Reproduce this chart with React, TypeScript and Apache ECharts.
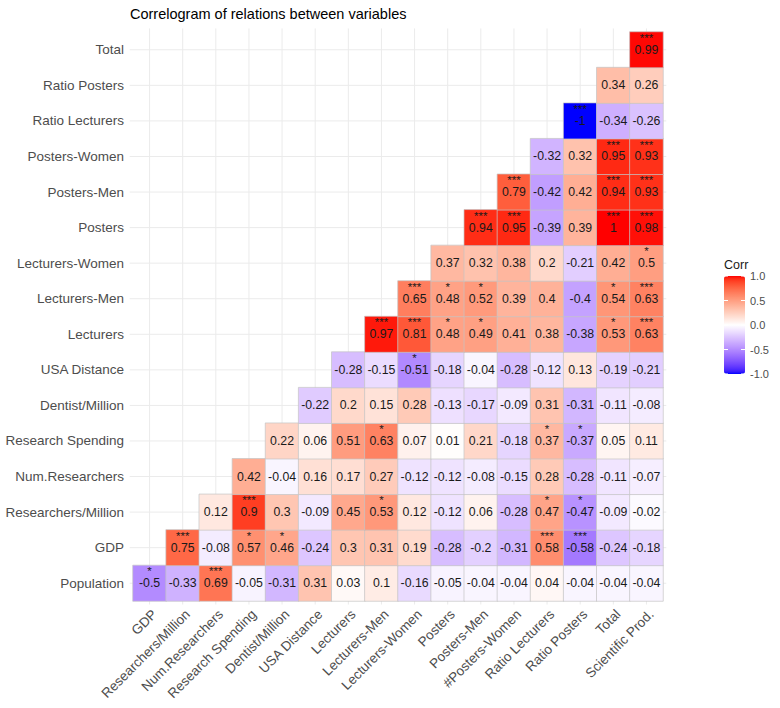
import React, { useEffect, useRef } from 'react';
import * as echarts from 'echarts';

const xCats = [
  'GDP', 'Researchers/Million', 'Num.Researchers', 'Research Spending', 'Dentist/Million',
  'USA Distance', 'Lecturers', 'Lecturers-Men', 'Lecturers-Women', 'Posters', 'Posters-Men',
  '#Posters-Women', 'Ratio Lecturers', 'Ratio Posters', 'Total', 'Scientific Prod.',
];
const yCats = [
  'Population', 'GDP', 'Researchers/Million', 'Num.Researchers', 'Research Spending',
  'Dentist/Million', 'USA Distance', 'Lecturers', 'Lecturers-Men', 'Lecturers-Women',
  'Posters', 'Posters-Men', 'Posters-Women', 'Ratio Lecturers', 'Ratio Posters', 'Total',
];

// Row r (bottom = 0) holds values for columns r..15
const corrValues: number[][] = [
  [-0.5, -0.33, 0.69, -0.05, -0.31, 0.31, 0.03, 0.1, -0.16, -0.05, -0.04, -0.04, 0.04, -0.04, -0.04, -0.04],
  [0.75, -0.08, 0.57, 0.46, -0.24, 0.3, 0.31, 0.19, -0.28, -0.2, -0.31, 0.58, -0.58, -0.24, -0.18],
  [0.12, 0.9, 0.3, -0.09, 0.45, 0.53, 0.12, -0.12, 0.06, -0.28, 0.47, -0.47, -0.09, -0.02],
  [0.42, -0.04, 0.16, 0.17, 0.27, -0.12, -0.12, -0.08, -0.15, 0.28, -0.28, -0.11, -0.07],
  [0.22, 0.06, 0.51, 0.63, 0.07, 0.01, 0.21, -0.18, 0.37, -0.37, 0.05, 0.11],
  [-0.22, 0.2, 0.15, 0.28, -0.13, -0.17, -0.09, 0.31, -0.31, -0.11, -0.08],
  [-0.28, -0.15, -0.51, -0.18, -0.04, -0.28, -0.12, 0.13, -0.19, -0.21],
  [0.97, 0.81, 0.48, 0.49, 0.41, 0.38, -0.38, 0.53, 0.63],
  [0.65, 0.48, 0.52, 0.39, 0.4, -0.4, 0.54, 0.63],
  [0.37, 0.32, 0.38, 0.2, -0.21, 0.42, 0.5],
  [0.94, 0.95, -0.39, 0.39, 1, 0.98],
  [0.79, -0.42, 0.42, 0.94, 0.93],
  [-0.32, 0.32, 0.95, 0.93],
  [-1, -0.34, -0.26],
  [0.34, 0.26],
  [0.99],
];

const corrStars: string[][] = [
  ['*', '', '***', '', '', '', '', '', '', '', '', '', '', '', '', ''],
  ['***', '', '*', '*', '', '', '', '', '', '', '', '***', '***', '', ''],
  ['', '***', '', '', '', '*', '', '', '', '', '*', '*', '', ''],
  ['', '', '', '', '', '', '', '', '', '', '', '', ''],
  ['', '', '', '*', '', '', '', '', '*', '*', '', ''],
  ['', '', '', '', '', '', '', '', '', '', ''],
  ['', '', '*', '', '', '', '', '', '', ''],
  ['***', '***', '*', '*', '', '', '', '*', '***'],
  ['***', '*', '*', '', '', '', '*', '***'],
  ['', '', '', '', '', '', '*'],
  ['***', '***', '', '', '***', '***'],
  ['***', '', '', '***', '***'],
  ['', '', '***', '***'],
  ['***', '', ''],
  ['', ''],
  ['***'],
];

const legendTicks = [1, 0.5, 0, -0.5, -1];
const legendTickLabels = ['1.0', '0.5', '0.0', '-0.5', '-1.0'];

// ---- Lab colour interpolation (as ggplot's gradient2) ----
function hexToRgb(h: string): number[] {
  const n = parseInt(h.slice(1), 16);
  return [(n >> 16) & 255, (n >> 8) & 255, n & 255];
}
function toLin(c: number) {
  c /= 255;
  return c <= 0.04045 ? c / 12.92 : Math.pow((c + 0.055) / 1.055, 2.4);
}
function toSrgb(c: number) {
  c = c <= 0.0031308 ? 12.92 * c : 1.055 * Math.pow(Math.max(c, 0), 1 / 2.4) - 0.055;
  return Math.round(Math.min(1, Math.max(0, c)) * 255);
}
function rgbToLab(rgb: number[]): number[] {
  const R = toLin(rgb[0]), G = toLin(rgb[1]), B = toLin(rgb[2]);
  const X = (0.4124 * R + 0.3576 * G + 0.1805 * B) / 0.95047;
  const Y = 0.2126 * R + 0.7152 * G + 0.0722 * B;
  const Z = (0.0193 * R + 0.1192 * G + 0.9505 * B) / 1.08883;
  const f = (t: number) => (t > 0.008856 ? Math.cbrt(t) : 7.787 * t + 16 / 116);
  const fx = f(X), fy = f(Y), fz = f(Z);
  return [116 * fy - 16, 500 * (fx - fy), 200 * (fy - fz)];
}
function labToHex(lab: number[]): string {
  const fy = (lab[0] + 16) / 116;
  const fx = fy + lab[1] / 500;
  const fz = fy - lab[2] / 200;
  const inv = (t: number) => (t * t * t > 0.008856 ? t * t * t : (t - 16 / 116) / 7.787);
  const X = 0.95047 * inv(fx), Y = inv(fy), Z = 1.08883 * inv(fz);
  const R = 3.2406 * X - 1.5372 * Y - 0.4986 * Z;
  const G = -0.9689 * X + 1.8758 * Y + 0.0415 * Z;
  const B = 0.0557 * X - 0.204 * Y + 1.057 * Z;
  return '#' + [R, G, B].map((c) => toSrgb(c).toString(16).padStart(2, '0')).join('');
}
const labLow = rgbToLab(hexToRgb('#0000ff'));
const labMid = rgbToLab(hexToRgb('#ffffff'));
const labHigh = rgbToLab(hexToRgb('#ff0000'));
const colorStops: string[] = [];
for (let k = 0; k <= 40; k++) {
  const v = -1 + k * 0.05;
  const target = v < 0 ? labLow : labHigh;
  const t = Math.abs(v);
  colorStops.push(labToHex(labMid.map((m, i) => m + (target[i] - m) * t)));
}

const FONT = '"Liberation Sans", Arial, Helvetica, sans-serif';

export default function App() {
  const ref = useRef<HTMLDivElement>(null);
  useEffect(() => {
    if (!ref.current) return;
    const chart = echarts.init(ref.current, undefined, { renderer: 'svg' });

    const data: any[] = [];
    corrValues.forEach((row, r) => {
      row.forEach((v, k) => {
        data.push({ value: [r + k, r, v], stars: corrStars[r][k] });
      });
    });

    const gridIdx = xCats.map((_, i) => [i, i]);

    const legLeft = 724, legTop = 276, legW = 21, legH = 98;
    const legY = (v: number) => legTop + ((1 - v) / 2) * legH;
    const graphics: any[] = [
      {
        type: 'text', left: 724, top: 258,
        style: { text: 'Corr', fontSize: 12.5, fill: '#1a1a1a', fontFamily: FONT },
      },
    ];
    legendTicks.forEach((v, i) => {
      const y = legY(v);
      graphics.push({
        type: 'text', x: 750, y,
        style: { text: legendTickLabels[i], fontSize: 11, fill: '#4d4d4d', fontFamily: FONT, verticalAlign: 'middle' },
      });
      graphics.push({ type: 'line', shape: { x1: legLeft, y1: y, x2: legLeft + 4, y2: y }, style: { stroke: '#ffffff', lineWidth: 1 }, z: 100 });
      graphics.push({ type: 'line', shape: { x1: legLeft + legW - 4, y1: y, x2: legLeft + legW, y2: y }, style: { stroke: '#ffffff', lineWidth: 1 }, z: 100 });
    });

    chart.setOption({
      animation: false,
      backgroundColor: '#ffffff',
      title: {
        text: 'Correlogram of relations between variables',
        left: 130, top: 6, padding: 0,
        textStyle: { fontSize: 14.5, fontWeight: 'normal', color: '#000000', fontFamily: FONT },
      },
      grid: { left: 133, top: 32, width: 530, height: 569 },
      xAxis: {
        type: 'category', data: xCats,
        axisLine: { show: false }, axisTick: { show: false }, splitLine: { show: false },
        axisLabel: {
          rotate: 45, margin: 6, fontSize: 13.5, color: '#4d4d4d', fontFamily: FONT, interval: 0,
          align: 'right', verticalAlign: 'top',
        },
      },
      yAxis: {
        type: 'category', data: yCats,
        axisLine: { show: false }, axisTick: { show: false }, splitLine: { show: false },
        axisLabel: { margin: 9, fontSize: 13.5, color: '#4d4d4d', fontFamily: FONT, interval: 0 },
      },
      visualMap: {
        type: 'continuous', min: -1, max: 1, dimension: 2, seriesIndex: 1,
        calculable: false, show: true, left: legLeft, top: legTop, padding: 0,
        itemWidth: legW, itemHeight: legH, text: null, hoverLink: false,
        inRange: { color: colorStops },
      },
      graphic: graphics,
      series: [
        {
          type: 'custom', silent: true, z: 1,
          data: gridIdx, encode: { x: 0, y: 1 },
          renderItem: (params: any, api: any) => {
            const cs = params.coordSys;
            const size = api.size([1, 1]);
            const pt = api.coord([api.value(0), api.value(1)]);
            const st = { stroke: '#ebebeb', lineWidth: 1 };
            return {
              type: 'group',
              children: [
                { type: 'line', shape: { x1: pt[0], y1: cs.y - 0.1 * size[1], x2: pt[0], y2: cs.y + cs.height + 0.1 * size[1] }, style: st },
                { type: 'line', shape: { x1: cs.x - 0.1 * size[0], y1: pt[1], x2: cs.x + cs.width + 0.1 * size[0], y2: pt[1] }, style: st },
              ],
            };
          },
        },
        {
          type: 'heatmap', z: 2,
          data,
          itemStyle: { borderColor: '#c4c4c4', borderWidth: 0.7 },
          emphasis: { disabled: true },
          label: {
            show: true,
            fontFamily: FONT,
            formatter: (p: any) => `{s|${p.data.stars || ' '}}\n{v|${p.data.value[2]}}\n{s| }`,
            rich: {
              s: { fontSize: 11.5, lineHeight: 11.5, color: '#1a1a1a', fontFamily: FONT, align: 'center' },
              v: { fontSize: 12.3, lineHeight: 12.3, color: '#1a1a1a', fontFamily: FONT, align: 'center' },
            },
          },
        },
      ],
    });
    return () => chart.dispose();
  }, []);
  return <div ref={ref} style={{ position: 'fixed', left: 0, top: 0, width: 780, height: 708 }} />;
}
